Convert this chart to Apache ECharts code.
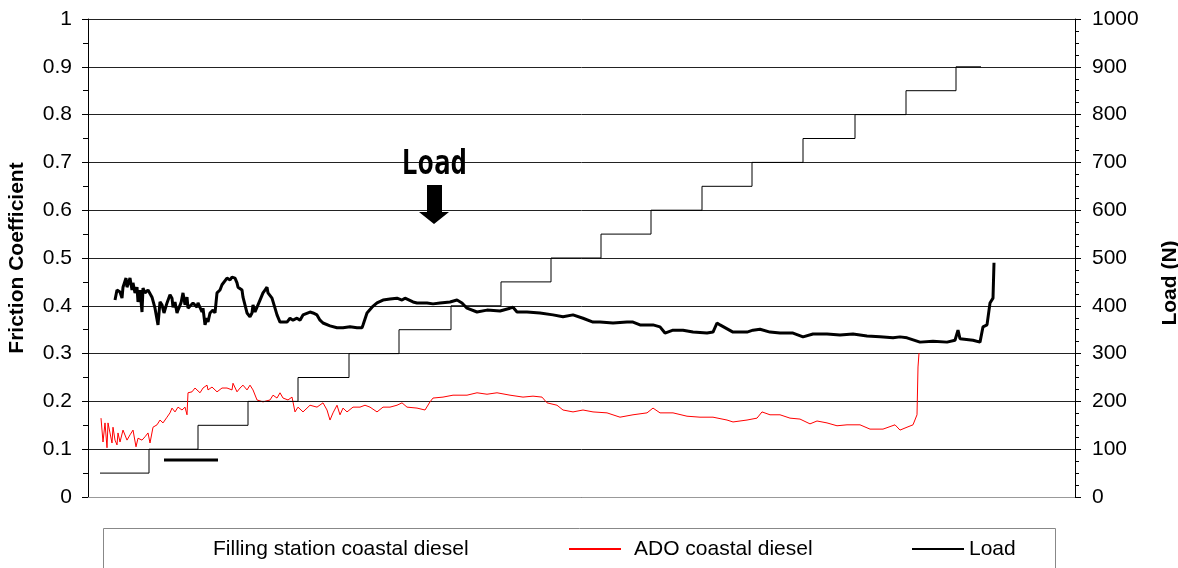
<!DOCTYPE html>
<html>
<head>
<meta charset="utf-8">
<script src="https://cdn.jsdelivr.net/npm/echarts@6/dist/echarts.min.js"></script>
<style>
html,body{margin:0;padding:0;background:#fff;}
#chart{width:1178px;height:568px;}
</style>
</head>
<body>
<div id="chart"></div>
<script>
// ---- data (time in arbitrary test units) ----
const fsTime = [27,29,32,34,35,38,39,42,44,45,47,49,50,52,54,55,57,60,62,64,67,70,72,74,76,79,82,84,85,87,89,90,93,95,97,99,100,102,105,109,110,114,115,117,119,120,122,125,127,129,132,134,135,139,142,144,147,149,150,154,155,159,162,164,165,167,169,172,175,177,179,180,184,187,189,192,199,202,205,209,212,215,222,225,229,232,235,242,249,255,262,269,274,275,279,284,289,295,302,309,314,317,325,329,339,345,352,362,369,374,379,389,399,412,422,425,429,439,452,465,475,485,495,505,512,525,539,545,552,565,572,577,585,595,605,619,625,629,632,645,659,665,672,682,692,705,715,725,739,752,765,779,792,805,812,819,832,845,859,867,870,872,885,892,894,895,899,902,905,906];
const fsFriction = [0.412,0.433,0.429,0.416,0.439,0.458,0.439,0.458,0.433,0.448,0.427,0.439,0.408,0.433,0.387,0.437,0.427,0.433,0.429,0.418,0.395,0.360,0.408,0.402,0.385,0.406,0.423,0.416,0.397,0.408,0.385,0.391,0.406,0.427,0.402,0.418,0.395,0.391,0.406,0.397,0.406,0.387,0.395,0.360,0.374,0.366,0.385,0.391,0.385,0.427,0.433,0.444,0.448,0.458,0.454,0.460,0.458,0.448,0.439,0.433,0.418,0.385,0.377,0.385,0.402,0.387,0.391,0.412,0.427,0.433,0.439,0.427,0.416,0.395,0.381,0.366,0.366,0.374,0.370,0.374,0.370,0.381,0.387,0.385,0.381,0.370,0.364,0.358,0.354,0.354,0.356,0.354,0.354,0.360,0.385,0.397,0.406,0.412,0.414,0.416,0.412,0.416,0.408,0.406,0.406,0.404,0.406,0.408,0.412,0.406,0.395,0.387,0.391,0.389,0.395,0.397,0.387,0.387,0.385,0.381,0.377,0.381,0.374,0.366,0.366,0.364,0.366,0.366,0.360,0.360,0.356,0.343,0.349,0.349,0.345,0.343,0.345,0.364,0.360,0.345,0.345,0.349,0.351,0.345,0.343,0.343,0.335,0.341,0.341,0.339,0.341,0.337,0.335,0.333,0.335,0.333,0.324,0.326,0.324,0.328,0.349,0.331,0.328,0.324,0.324,0.356,0.360,0.406,0.416,0.490];

const adoTime = [13,15,17,19,20,22,24,25,27,29,30,32,35,39,42,45,48,50,54,57,60,62,65,69,72,75,79,82,84,87,90,94,97,99,100,104,107,109,112,115,119,120,124,129,134,139,144,145,149,152,155,159,162,165,169,175,182,185,189,192,195,200,204,207,210,215,222,229,235,239,242,245,249,252,255,259,265,272,277,282,289,295,302,309,314,319,329,337,342,345,355,365,379,389,399,409,422,435,445,454,459,469,475,485,495,505,519,532,545,559,565,572,585,599,612,625,639,645,659,669,674,682,692,702,712,722,729,739,749,759,772,782,795,807,812,819,825,829,830,831];
const adoFriction = [0.165,0.115,0.155,0.103,0.155,0.134,0.113,0.146,0.119,0.109,0.134,0.115,0.140,0.119,0.130,0.140,0.105,0.123,0.119,0.126,0.134,0.113,0.146,0.151,0.161,0.155,0.167,0.176,0.186,0.178,0.188,0.182,0.188,0.172,0.218,0.220,0.228,0.230,0.218,0.228,0.234,0.224,0.230,0.220,0.228,0.228,0.224,0.238,0.220,0.228,0.234,0.224,0.234,0.224,0.203,0.199,0.203,0.213,0.207,0.218,0.207,0.203,0.209,0.178,0.188,0.178,0.192,0.188,0.197,0.182,0.161,0.176,0.192,0.172,0.186,0.178,0.188,0.188,0.192,0.188,0.178,0.188,0.188,0.192,0.197,0.188,0.186,0.182,0.199,0.207,0.209,0.213,0.213,0.218,0.215,0.218,0.213,0.209,0.211,0.209,0.197,0.192,0.182,0.178,0.182,0.178,0.176,0.167,0.172,0.176,0.186,0.176,0.176,0.169,0.167,0.167,0.161,0.157,0.161,0.165,0.178,0.172,0.172,0.165,0.163,0.153,0.159,0.155,0.149,0.151,0.151,0.142,0.142,0.151,0.140,0.146,0.151,0.172,0.272,0.301];

const loadTime = [12,61,110,160,210,261,311,363,413,463,513,563,614,664,715,767,818,868,893];
const loadValues = [50,100,150,200,250,300,350,400,450,500,550,600,650,700,750,800,850,900,900];

const seriesNames = ['Filling station coastal diesel','ADO coastal diesel','Load'];
const leftTicks = {min:0, max:1, interval:0.1};
const rightTicks = {min:0, max:1000, interval:100};

function pairs(xs, ys){ return xs.map((x,i)=>[x, ys[i]]); }

const FONT = 'Liberation Sans, Arial, sans-serif';
const chart = echarts.init(document.getElementById('chart'), null, {renderer:'canvas'});

const legendBase = {
  orient:'horizontal', top:538, itemHeight:22, itemGap:0, padding:0,
  selectedMode:false,
  itemStyle:{opacity:0, borderWidth:0},
  textStyle:{fontFamily:FONT, fontSize:21, color:'#000', lineHeight:22}
};

chart.setOption({
  animation:false,
  backgroundColor:'#fff',
  grid:{left:88, right:103, top:19, bottom:71, containLabel:false, outerBoundsMode:'none'},
  xAxis:{
    type:'value', min:0, max:987,
    axisLine:{show:true, onZero:false, lineStyle:{color:'#999', width:1}},
    axisTick:{show:false}, axisLabel:{show:false}, splitLine:{show:false}
  },
  yAxis:[
    {
      type:'value', position:'left', min:leftTicks.min, max:leftTicks.max, interval:leftTicks.interval,
      name:'Friction Coefficient', nameLocation:'middle', nameRotate:90, nameGap:60,
      nameTextStyle:{fontFamily:FONT, fontSize:21, fontWeight:'bold', color:'#000'},
      axisLine:{show:true, lineStyle:{color:'#000', width:1}},
      axisTick:{show:true, inside:false, length:6, lineStyle:{color:'#000'}},
      minorTick:{show:true, splitNumber:2, length:5, lineStyle:{color:'#000'}},
      axisLabel:{fontFamily:FONT, fontSize:21, color:'#000', margin:16},
      splitLine:{show:true, lineStyle:{color:'#222', width:1}}
    },
    {
      type:'value', position:'right', min:rightTicks.min, max:rightTicks.max, interval:rightTicks.interval,
      name:'Load (N)', nameLocation:'middle', nameRotate:90, nameGap:85,
      nameTextStyle:{fontFamily:FONT, fontSize:21, fontWeight:'bold', color:'#000', padding:[0,50,0,0]},
      axisLine:{show:true, lineStyle:{color:'#000', width:1}},
      axisTick:{show:true, inside:false, length:6, lineStyle:{color:'#000'}},
      minorTick:{show:true, splitNumber:4, length:4, lineStyle:{color:'#000'}},
      axisLabel:{fontFamily:FONT, fontSize:21, color:'#000', margin:17, formatter:(v)=>String(v)},
      splitLine:{show:false}
    }
  ],
  legend:[
    Object.assign({}, legendBase, {left:182, itemWidth:25,
      data:[{name:seriesNames[0], itemStyle:{opacity:0}, lineStyle:{opacity:0}}]}),
    Object.assign({}, legendBase, {left:568, itemWidth:52,
      data:[{name:seriesNames[1], textStyle:{padding:[0,0,0,8]}}]}),
    Object.assign({}, legendBase, {left:911, itemWidth:52, data:[seriesNames[2]]})
  ],
  series:[
    {
      name:seriesNames[0], type:'line', yAxisIndex:0, data:pairs(fsTime, fsFriction),
      symbol:'none', showSymbol:false, color:'#000',
      lineStyle:{color:'#000', width:3}, z:4
    },
    {
      name:seriesNames[1], type:'line', yAxisIndex:0, data:pairs(adoTime, adoFriction),
      symbol:'none', showSymbol:false, color:'#ff0000',
      lineStyle:{color:'#ff0000', width:1}, z:3
    },
    {
      name:seriesNames[2], type:'line', yAxisIndex:1, data:pairs(loadTime, loadValues),
      step:'end', symbol:'none', showSymbol:false, color:'#000',
      lineStyle:{color:'#000', width:1}, z:3
    }
  ],
  graphic:[
    {type:'rect', shape:{x:103.5, y:528.5, width:952, height:60},
     style:{fill:'none', stroke:'#888', lineWidth:1}, silent:true, z:0},
    {type:'line', shape:{x1:164, y1:460, x2:218, y2:460},
     style:{stroke:'#000', lineWidth:3}, silent:true, z:10},
    {type:'text', x:434, y:165, scaleX:0.8,
     style:{text:'Load', font:'bold 34px "DejaVu Sans Mono", monospace', fill:'#000',
            textAlign:'center', textVerticalAlign:'middle'}, silent:true, z:10},
    {type:'polygon', shape:{points:[[427,185],[442,185],[442,212],[449,212],[434,224],[419,212],[427,212]]},
     style:{fill:'#000'}, silent:true, z:10}
  ]
});
</script>
</body>
</html>
